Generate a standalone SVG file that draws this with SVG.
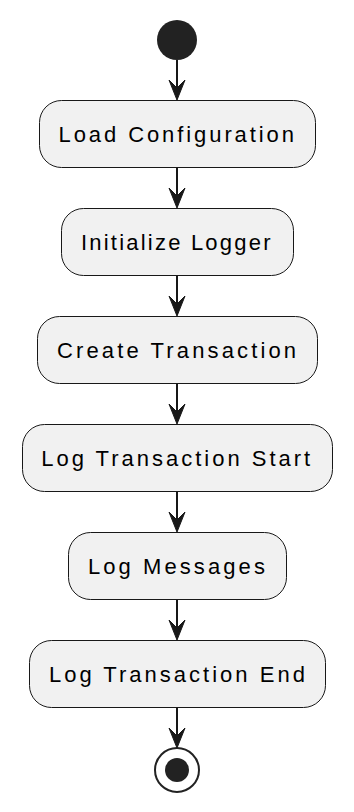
<svg xmlns="http://www.w3.org/2000/svg" width="354" height="812" viewBox="0 0 354 812">
  <defs>
    <style>
      .act rect { fill: #F1F1F1; stroke: #181818; stroke-width: 1; }
      .act text { font-family: "Liberation Sans", Arial, sans-serif; font-size: 22px; fill: #000000; }
      .edge { stroke: #181818; stroke-width: 2; fill: none; }
      .head { fill: #181818; stroke: #181818; stroke-width: 1; }
    </style>
  </defs>
  <rect width="354" height="812" fill="#FFFFFF"/>

  <!-- start -->
  <g id="start">
    <circle cx="177" cy="40" r="20" fill="#222222"/>
  </g>

  <!-- activities -->
  <g id="load-configuration" class="act">
    <rect x="39.5" y="100.5" width="276" height="67" rx="22" ry="22"/>
    <text x="58.5" y="142" textLength="235.5" lengthAdjust="spacing">Load Configuration</text>
  </g>
  <g id="initialize-logger" class="act">
    <rect x="61.5" y="208.5" width="232" height="67" rx="22" ry="22"/>
    <text x="81" y="250" textLength="189.5" lengthAdjust="spacing">Initialize Logger</text>
  </g>
  <g id="create-transaction" class="act">
    <rect x="37.5" y="316.5" width="280" height="67" rx="22" ry="22"/>
    <text x="57" y="358" textLength="239" lengthAdjust="spacing">Create Transaction</text>
  </g>
  <g id="log-transaction-start" class="act">
    <rect x="22.5" y="424.5" width="310" height="67" rx="22" ry="22"/>
    <text x="41.2" y="466" textLength="269" lengthAdjust="spacing">Log Transaction Start</text>
  </g>
  <g id="log-messages" class="act">
    <rect x="68.5" y="532.5" width="218" height="67" rx="22" ry="22"/>
    <text x="87.9" y="574" textLength="177" lengthAdjust="spacing">Log Messages</text>
  </g>
  <g id="log-transaction-end" class="act">
    <rect x="29.5" y="640.5" width="296" height="67" rx="22" ry="22"/>
    <text x="48.9" y="682" textLength="256" lengthAdjust="spacing">Log Transaction End</text>
  </g>

  <!-- end -->
  <g id="end">
    <circle cx="177" cy="770" r="22" fill="none" stroke="#222222" stroke-width="2"/>
    <circle cx="177" cy="770" r="12" fill="#222222"/>
  </g>

  <!-- connectors -->
  <g id="connectors">
    <line class="edge" x1="177" y1="60" x2="177" y2="90"/>
    <polygon class="head" points="177,100 169,80 177,88 185,80"/>
    <line class="edge" x1="177" y1="168" x2="177" y2="198"/>
    <polygon class="head" points="177,208 169,188 177,196 185,188"/>
    <line class="edge" x1="177" y1="276" x2="177" y2="306"/>
    <polygon class="head" points="177,316 169,296 177,304 185,296"/>
    <line class="edge" x1="177" y1="384" x2="177" y2="414"/>
    <polygon class="head" points="177,424 169,404 177,412 185,404"/>
    <line class="edge" x1="177" y1="492" x2="177" y2="522"/>
    <polygon class="head" points="177,532 169,512 177,520 185,512"/>
    <line class="edge" x1="177" y1="600" x2="177" y2="630"/>
    <polygon class="head" points="177,640 169,620 177,628 185,620"/>
    <line class="edge" x1="177" y1="708" x2="177" y2="738"/>
    <polygon class="head" points="177,748 169,728 177,736 185,728"/>
  </g>
</svg>
